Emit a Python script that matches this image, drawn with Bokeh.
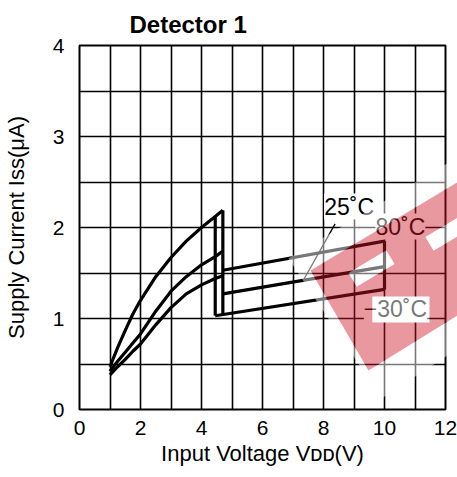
import numpy as np
from bokeh.plotting import figure
from bokeh.models import Range1d, FixedTicker, Label, Title
from bokeh.embed import file_html
from bokeh.resources import INLINE

# ---------------- data ----------------
v_rise = [1.0, 1.25, 1.5, 1.75, 2.0, 2.5, 3.0, 3.5, 4.0, 4.45, 4.7]
iss_rise_80 = [0.47, 0.68, 0.87, 1.05, 1.20, 1.46, 1.67, 1.85, 2.00, 2.12, 2.19]
iss_rise_25 = [0.42, 0.53, 0.63, 0.73, 0.83, 1.08, 1.30, 1.46, 1.59, 1.68, 1.74]
iss_rise_m30 = [0.38, 0.47, 0.55, 0.64, 0.72, 0.93, 1.12, 1.27, 1.37, 1.44, 1.47]

v_high_80 = [4.7, 10.0]
iss_high_80 = [1.53, 1.85]
v_high_25 = [4.7, 10.0]
iss_high_25 = [1.27, 1.57]
v_high_m30 = [4.45, 10.0]
iss_high_m30 = [1.03, 1.32]

v_jump = [4.45, 4.7, 10.0]
iss_jump_low = [1.03, 1.045, 1.32]
iss_jump_high = [2.12, 2.19, 1.85]

x_ticks = [0, 2, 4, 6, 8, 10, 12]
y_ticks = [0, 1, 2, 3, 4]
x_grid = list(range(0, 13))
y_grid = [0, 0.5, 1, 1.5, 2, 2.5, 3, 3.5, 4]

title_text = "Detector 1"
x_title = "Input Voltage V\u1d05\u1d05(V)"
y_title = "Supply Current Iss(μA)"

temp_labels = ["25˚C", "80˚C", "−30˚C"]
temp_label_x = [8.84, 10.52, 10.36]
temp_label_y = [2.23, 2.01, 1.10]
leader_x = [8.38, 7.34]
leader_y = [2.04, 1.42]

# decorative watermark (data units)
wm_band_x = [7.574, 9.475, 12.918, 12.918]
wm_band_y = [1.527, 0.429, 1.143, 2.604]
wm_haze_x = [6.852, 9.902, 12.918, 12.918]
wm_haze_y = [1.659, 0.121, 0.780, 2.879]
wm_hole1_x = [10.33, 10.06, 8.82, 9.09]
wm_hole1_y = [1.599, 1.749, 1.500, 1.349]
wm_hole2_x = [9.60, 11.475, 11.475, 9.60]
wm_hole2_y = [1.242, 1.242, 0.956, 0.956]
wm_hole3_x = [12.85, 12.58, 11.34, 11.61]
wm_hole3_y = [1.993, 2.145, 1.896, 1.745]

FONT = "Liberation Sans"

p = figure(frame_width=366, frame_height=364,
           x_range=Range1d(0, 12), y_range=Range1d(0, 4),
           output_backend="svg", toolbar_location=None,
           min_border_left=76, min_border_right=14,
           min_border_top=45, min_border_bottom=60)

p.title = Title(text=title_text, align="left", offset=50, standoff=16,
                text_font=FONT, text_font_size="24px", text_font_style="bold",
                text_color="black")

p.outline_line_color = "black"
p.outline_line_width = 2
p.background_fill_color = "white"
p.border_fill_color = "white"

p.xgrid.ticker = FixedTicker(ticks=x_grid)
p.ygrid.ticker = FixedTicker(ticks=y_grid)
for g in (p.xgrid, p.ygrid):
    g.grid_line_color = "black"
    g.grid_line_width = 1.6
    g.grid_line_alpha = 1.0

p.xaxis.ticker = FixedTicker(ticks=x_ticks)
p.yaxis.ticker = FixedTicker(ticks=y_ticks)
for ax in (p.xaxis, p.yaxis):
    ax.axis_line_color = None
    ax.major_tick_line_color = None
    ax.minor_tick_line_color = None
    ax.major_label_text_font = FONT
    ax.major_label_text_font_size = "21px"
    ax.major_label_text_color = "black"
    ax.axis_label_text_font = FONT
    ax.axis_label_text_font_size = "22px"
    ax.axis_label_text_font_style = "normal"
    ax.axis_label_text_color = "black"
p.xaxis.major_label_standoff = 5
p.yaxis.major_label_standoff = 9
p.xaxis.axis_label = x_title
p.yaxis.axis_label = y_title
p.xaxis.axis_label_standoff = 3
p.yaxis.axis_label_standoff = 21

# curves
for ys in (iss_rise_80, iss_rise_25, iss_rise_m30):
    p.line(v_rise, ys, line_color="black", line_width=3.2)
for xs, ys in ((v_high_80, iss_high_80), (v_high_25, iss_high_25), (v_high_m30, iss_high_m30)):
    p.line(xs, ys, line_color="black", line_width=3.2)
p.segment(x0=v_jump, y0=iss_jump_low, x1=v_jump, y1=iss_jump_high,
          line_color="black", line_width=3.2)

# leader line for 25C
p.line(leader_x, leader_y, line_color="black", line_width=1.3)

# temperature labels
for t, x, y in zip(temp_labels, temp_label_x, temp_label_y):
    p.add_layout(Label(x=x, y=y, text=t, text_align="center", text_baseline="middle",
                       text_font=FONT, text_font_size="23px", text_color="black",
                       background_fill_color="white", background_fill_alpha=1.0))

# watermark overlay
p.multi_polygons(xs=[[[wm_haze_x, wm_band_x]], [[wm_hole1_x]], [[wm_hole2_x]], [[wm_hole3_x]]],
                 ys=[[[wm_haze_y, wm_band_y]], [[wm_hole1_y]], [[wm_hole2_y]], [[wm_hole3_y]]],
                 fill_color="white", fill_alpha=0.47, line_alpha=0, level="overlay")
p.multi_polygons(xs=[[[wm_band_x, wm_hole1_x, wm_hole2_x, wm_hole3_x]]],
                 ys=[[[wm_band_y, wm_hole1_y, wm_hole2_y, wm_hole3_y]]],
                 fill_color="#cc1525", fill_alpha=0.44, line_alpha=0, level="overlay")

open("out.html", "w").write(file_html(p, INLINE))
